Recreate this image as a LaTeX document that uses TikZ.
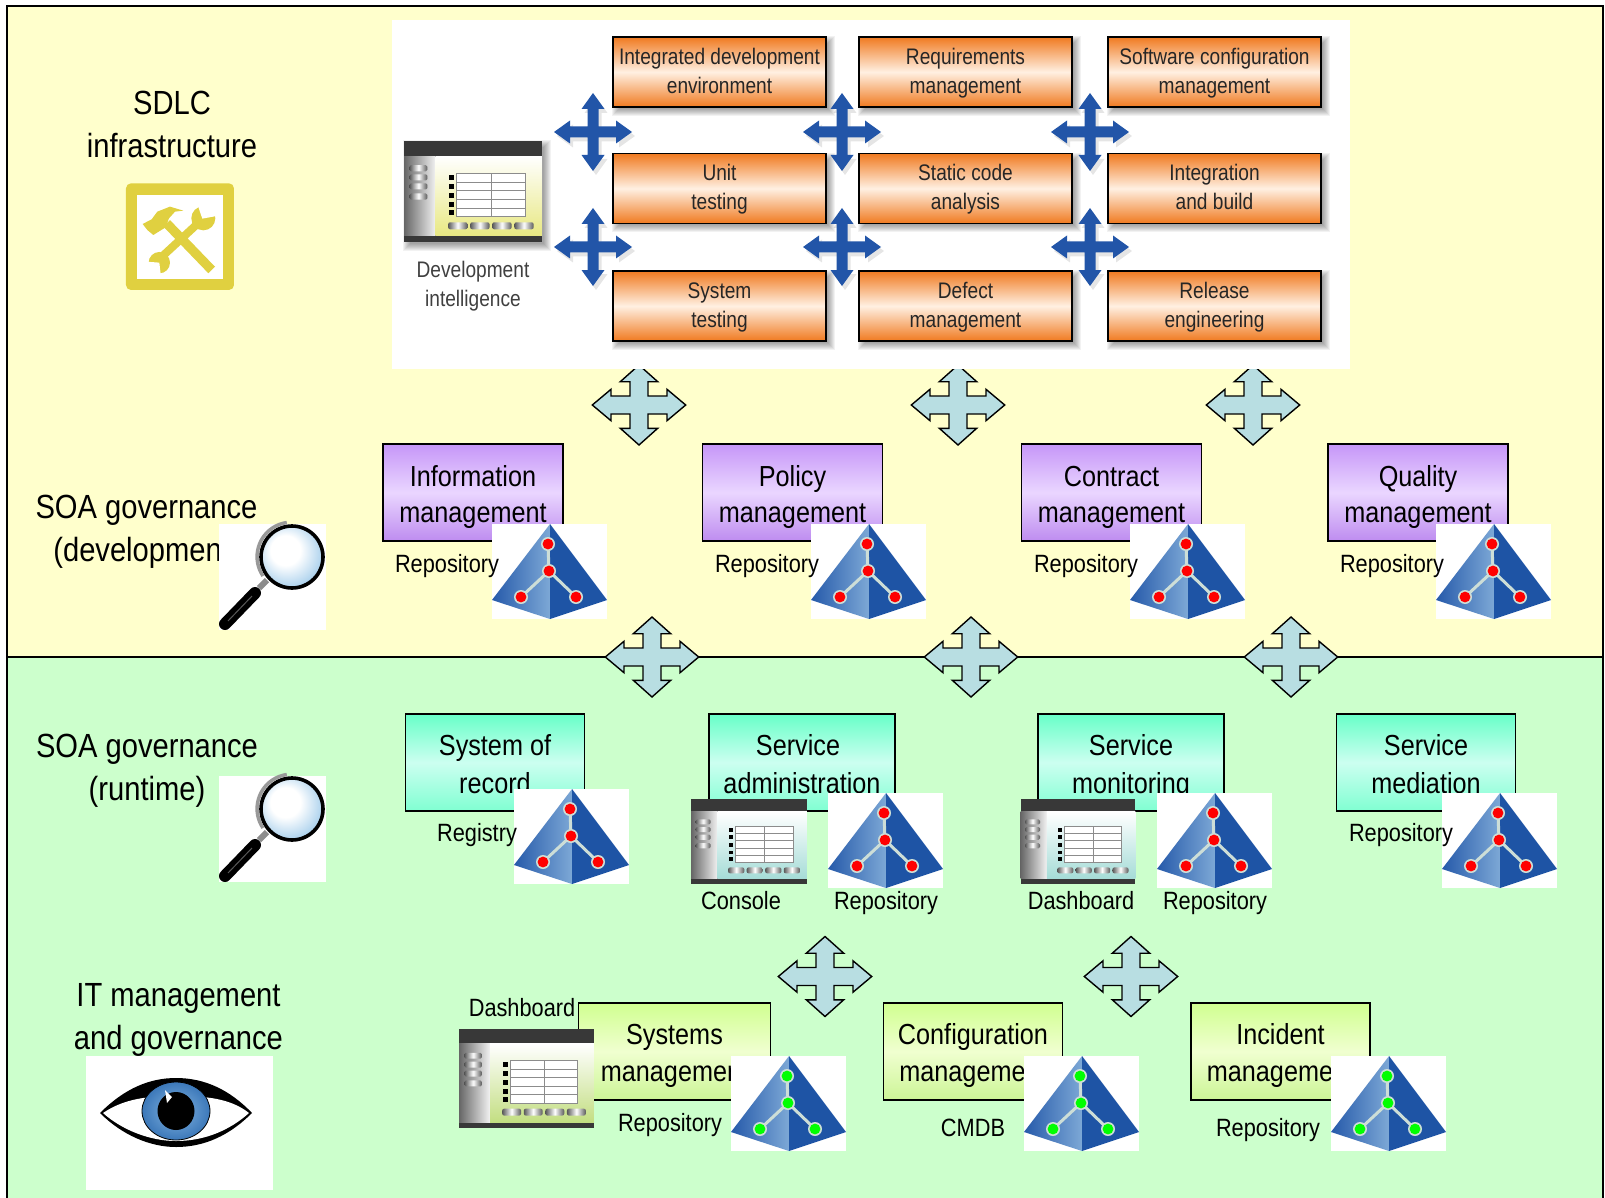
\documentclass[tikz,border=0pt]{standalone}
\usepackage{fontspec}
\setmainfont[FakeStretch=0.87]{Liberation Sans}
\newfontfamily\panelfont[FakeStretch=0.85]{Liberation Sans}
\usetikzlibrary{shapes.geometric}
\definecolor{bgyellow}{HTML}{FFFFCC}
\definecolor{bggreen}{HTML}{CCFFCC}
\definecolor{crossfill}{HTML}{B8DEE2}
\definecolor{crossblue}{HTML}{2255A8}
\definecolor{toolyellow}{HTML}{E0D040}
\definecolor{orangetop}{HTML}{F07A20}
\definecolor{orangemid}{HTML}{FFF0E2}
\definecolor{purpletop}{HTML}{C696F8}
\definecolor{purplemid}{HTML}{EAD6FF}
\definecolor{purplebot}{HTML}{BE8CF0}
\definecolor{tealtop}{HTML}{68FFC8}
\definecolor{tealmid}{HTML}{CCFFF0}
\definecolor{tealbot}{HTML}{80FFD2}
\definecolor{limetop}{HTML}{D0FF90}
\definecolor{limemid}{HTML}{F0FFD0}
\definecolor{limebot}{HTML}{CCF596}
\definecolor{pyrdark}{HTML}{265AAA}
\definecolor{pyrlight}{HTML}{7DA8D6}
\definecolor{pyrright}{HTML}{1E54A5}
\definecolor{pyrhalo}{HTML}{CDDED7}
\definecolor{panelyellow}{HTML}{E8E882}
\definecolor{panelteal}{HTML}{A5DCD7}
\definecolor{panellime}{HTML}{C3DE82}
\definecolor{lensblue}{HTML}{8CC0E6}
\definecolor{irislight}{HTML}{82B4E1}
\definecolor{irisdark}{HTML}{3C78B9}
\pgfdeclareradialshading{lensglass}{\pgfpoint{-7bp}{7bp}}{color(0bp)=(white);color(12bp)=(white);color(34bp)=(lensblue);color(50bp)=(lensblue)}
\tikzset{
  lbl/.style={font=\fontsize{33.5}{43}\selectfont,align=center,inner sep=0pt},
  repo/.style={font=\fontsize{25}{28}\selectfont,inner sep=0pt,anchor=base},
  panelbox/.style={draw=black,line width=1.3pt,minimum width=213pt,minimum height=70pt,inner sep=0pt,align=center,
    top color=orangetop,bottom color=orangetop,middle color=orangemid,text=black!85,font=\panelfont\fontsize{22.5}{29}\selectfont},
  purplebox/.style={draw=black,line width=1.3pt,minimum width=180pt,minimum height=97pt,inner sep=0pt,align=center,
    top color=purpletop,bottom color=purplebot,middle color=purplemid,
    font=\fontsize{29}{36}\selectfont},
  tealbox/.style={draw=black,line width=1.3pt,minimum height=97pt,inner sep=0pt,align=center,
    top color=tealtop,bottom color=tealbot,middle color=tealmid,
    font=\fontsize{29}{38}\selectfont},
  limebox/.style={draw=black,line width=1.3pt,minimum height=97pt,inner sep=0pt,align=center,
    top color=limetop,bottom color=limebot,middle color=limemid,
    font=\fontsize{29}{37}\selectfont},
  pill/.style={left color=black!65,right color=black!65,middle color=white}
}
\newcommand{\tlb}[2]{\rule{0pt}{33pt}#1\\#2\rule[-10pt]{0pt}{10pt}}
\newcommand{\tls}[2]{\rule{0pt}{22pt}#1\\#2\rule[-8pt]{0pt}{8pt}}
\newcommand{\tll}[2]{\rule{0pt}{30pt}#1\\#2\rule[-10pt]{0pt}{10pt}}
\newcommand{\lightcross}[2]{%
  \draw[fill=crossfill,draw=black,line width=1.4pt,line join=miter,shift={(#1,#2)}]
   (0,-40)--(18.7,-23.3)--(9,-23.3)--(9,-9)--(28,-9)--(28,-15.7)--(46.7,0)--(28,15.7)--(28,9)--(9,9)--(9,23.3)--(18.7,23.3)--(0,40)--(-18.7,23.3)--(-9,23.3)--(-9,9)--(-28,9)--(-28,15.7)--(-46.7,0)--(-28,-15.7)--(-28,-9)--(-9,-9)--(-9,-23.3)--(-18.7,-23.3)--cycle;}
\newcommand{\bluecrosspath}{(0,-39)--(11.5,-23)--(5.5,-23)--(5.5,-5.5)--(23,-5.5)--(23,-11.5)--(39,0)--(23,11.5)--(23,5.5)--(5.5,5.5)--(5.5,23)--(11.5,23)--(0,39)--(-11.5,23)--(-5.5,23)--(-5.5,5.5)--(-23,5.5)--(-23,11.5)--(-39,0)--(-23,-11.5)--(-23,-5.5)--(-5.5,-5.5)--(-5.5,-23)--(-11.5,-23)--cycle}
\newcommand{\bluecross}[2]{%
  \fill[black,opacity=.10,shift={(#1+3,#2+4)}] \bluecrosspath;
  \fill[crossblue,shift={(#1,#2)}] \bluecrosspath;}
\newcommand{\softshadow}[4]{%
  \foreach \k in {0,...,7}{\fill[black,opacity=.05] ({#1+6-\k},{#2+6-\k}) rectangle ({#3+2+\k},{#4+2+\k});}}
\newcommand{\pyramidpic}[3]{%
  \begin{scope}[shift={(#1,#2)}]
    \fill[white] (0,0) rectangle (115,95);
    \shade[left color=pyrdark,right color=pyrlight] (58,0)--(0,76)--(58,95)--cycle;
    \fill[pyrright] (58,0)--(115,76)--(58,95)--cycle;
    \draw[pyrhalo,line width=3pt] (56,20)--(57,47)--(29,73) (57,47)--(84,73);
    \foreach \p in {(56,20),(57,47),(29,73),(84,73)}{%
      \fill[pyrhalo] \p circle (7);
      \fill[#3] \p circle (5.4);}
  \end{scope}}
\newcommand{\consolepic}[5]{%
  \begin{scope}[shift={(#1,#2)},x=#3*0.01pt,y=-#4*0.01pt]
    \fill[black!78] (0,0) rectangle (100,100);
    \shade[left color=black!60,right color=black!5] (0,15) rectangle (23,94);
    \shade[top color=white,bottom color=#5] (23,15) rectangle (100,94);
    \fill[white] (38,32) rectangle (88,75);
    \draw[black!45,line width=.7pt] (38,32) rectangle (88,75)
      (38,40.6)--(88,40.6) (38,49.2)--(88,49.2) (38,57.8)--(88,57.8) (38,66.4)--(88,66.4) (63,32)--(63,75);
    \foreach \q in {36,45,54,63,71}{\fill[black] (32.5,\q-2.3) rectangle (36,\q+2.3);}
    \foreach \q in {27,36,45,55}{\shade[pill,rounded corners=1.5pt] (4,\q-3) rectangle (17,\q+3);}
    \foreach \q in {32,48,64,80}{\shade[pill,rounded corners=2pt] (\q,80.5) rectangle (\q+14,87.5);}
  \end{scope}}
\newcommand{\magnifier}[2]{%
  \begin{scope}[shift={(#1,#2)}]
    \fill[white] (0,0) rectangle (107,106);
    \draw[black!45,line width=6pt] (40,64)--(48,56);
    \draw[black,line width=12pt,line cap=round] (6,100)--(36,69);
    \draw[black!65,line width=1pt] (9,97)--(33,72);
    \shade[shading=lensglass] (73,33) circle (31);
    \draw[black,line width=3.6pt] (73,33) circle (31);
    \draw[black!40,line width=3.5pt] (44,52) arc (146:262:34.5);
  \end{scope}}
\begin{document}
\begin{tikzpicture}[x=1pt,y=-1pt]
\useasboundingbox (0,0) rectangle (1605,1198);
\fill[white] (0,0) rectangle (1605,1198);
% backgrounds
\fill[bgyellow] (7,6) rectangle (1603,657);
\fill[bggreen] (7,657) rectangle (1603,1198);
\draw[black,line width=1.6pt] (7,1198)--(7,6)--(1603,6)--(1603,1198);
\draw[black,line width=1.6pt] (7,657)--(1603,657);
% row 1 light crosses (cut by the panel)
\lightcross{639}{405}\lightcross{958}{405}\lightcross{1253}{405}
% white panel
\fill[white] (392,20) rectangle (1350,369);
% shadows
\foreach \cx/\w in {613/826,859/1072,1108/1321}{%
  \foreach \ry/\rb in {37/107,154/223,271/341}{\softshadow{\cx}{\ry}{\w}{\rb}}}
\softshadow{404}{141}{542}{242}
% orange boxes
\node[panelbox] (ide) at (719.5,72) {\tls{Integrated development}{environment}};
\node[panelbox] (req) at (965.5,72) {\tls{Requirements}{management}};
\node[panelbox] (scm) at (1214.5,72) {\tls{Software configuration}{management}};
\node[panelbox] (unit) at (719.5,188.5) {\tls{Unit}{testing}};
\node[panelbox] (sca) at (965.5,188.5) {\tls{Static code}{analysis}};
\node[panelbox] (intb) at (1214.5,188.5) {\tls{Integration}{and build}};
\node[panelbox] (syst) at (719.5,306) {\tls{System}{testing}};
\node[panelbox] (defm) at (965.5,306) {\tls{Defect}{management}};
\node[panelbox] (rele) at (1214.5,306) {\tls{Release}{engineering}};
% blue crosses
\foreach \cx in {593,842,1090}{\bluecross{\cx}{132}\bluecross{\cx}{247}}
% development console
\consolepic{404}{141}{138}{101}{panelyellow}
\node[font=\panelfont\fontsize{22.5}{29}\selectfont,text=black!75,align=center,inner sep=0pt] (devint) at (473,285) {\tls{Development}{intelligence}};
% left labels
\node[lbl] (sdlc) at (172,126.5) {\tll{SDLC}{infrastructure}};
\node[lbl] (soadev) at (146.5,529.5) {\tll{SOA governance}{(development)}};
\node[lbl] (soarun) at (147,769) {\tll{SOA governance}{(runtime)}};
\node[lbl] (itm) at (178.5,1018) {\tll{IT management}{and governance}};
% tools icon
\begin{scope}[shift={(70,80)},x=0.3333pt,y=-0.3333pt]
  \fill[toolyellow,rounded corners=5pt] (168,310) rectangle (492,630);
  \fill[white] (202,346) rectangle (458,598);
  \draw[toolyellow,line width=8pt] (265,540)--(395,420);
  \fill[toolyellow] (400,415) circle (36);
  \fill[toolyellow] (268,548) circle (32);
  \fill[white] (397,416)--(382,372)--(408,368)--(448,380)--(440,408)--cycle;
  \fill[white] (268,548)--(228,545)--(228,575)--(250,590)--(272,582)--cycle;
  \draw[toolyellow,line width=9.3pt] (290,430)--(425,570);
  \fill[toolyellow] (218,432)--(245,418)--(262,395)--(300,380)--(340,392)--(315,395)--(297,415)--(287,442)--(250,465)--(232,450)--cycle;
\end{scope}
% magnifiers
\magnifier{219}{524}
\magnifier{219}{776}
% eye
\fill[white] (85.5,1056) rectangle (273,1190);
\fill[black] (100,1113) .. controls (125,1088) and (150,1078) .. (176,1078) .. controls (205,1078) and (230,1090) .. (252,1113) .. controls (230,1135) and (205,1147) .. (176,1147) .. controls (150,1147) and (122,1135) .. (100,1113) -- cycle;
\fill[white] (103,1113) .. controls (125,1098) and (150,1096) .. (176,1096) .. controls (205,1096) and (230,1098) .. (249,1113) .. controls (230,1130) and (205,1141) .. (176,1141) .. controls (150,1141) and (122,1130) .. (103,1113) -- cycle;
\shade[inner color=irislight,outer color=irisdark] (176,1111) ellipse (34 and 29);
\draw[black,line width=.8pt] (176,1111) ellipse (34 and 29);
\fill[black] (176,1111) ellipse (18.5 and 19);
\fill[white] (165,1090)--(172,1097)--(167,1103)--cycle;
% purple boxes
\node[purplebox] (infom) at (473,492.5) {\tlb{Information}{management}};
\node[purplebox] (polm) at (792.5,492.5) {\tlb{Policy}{management}};
\node[purplebox] (conm) at (1111.5,492.5) {\tlb{Contract}{management}};
\node[purplebox] (qualm) at (1418,492.5) {\tlb{Quality}{management}};
% teal boxes
\node[tealbox,minimum width=179pt] (sor) at (495,762.5) {\tlb{System of}{record}};
\node[tealbox,minimum width=186pt] (sadm) at (802,762.5) {\tlb{Service\hspace*{8pt}}{administration}};
\node[tealbox,minimum width=186pt] (smon) at (1131,762.5) {\tlb{Service}{monitoring}};
\node[tealbox,minimum width=179pt] (smed) at (1426,762.5) {\tlb{Service}{mediation}};
% lime boxes
\node[limebox,minimum width=192pt] (sysm) at (674.5,1051.5) {\tlb{Systems}{management}};
\node[limebox,minimum width=179pt] (cfgm) at (973,1051.5) {\tlb{Configuration}{management}};
\node[limebox,minimum width=179pt] (incm) at (1280.5,1051.5) {\tlb{Incident}{management}};
% consoles
\consolepic{691}{799}{116}{85}{panelteal}
\consolepic{1020.5}{799}{115}{85}{panelteal}
\consolepic{459}{1029}{135}{99}{panellime}
% pyramids
\pyramidpic{492}{524}{red}\pyramidpic{811}{524}{red}\pyramidpic{1130}{524}{red}\pyramidpic{1436}{524}{red}
\pyramidpic{514}{789}{red}\pyramidpic{828}{793}{red}\pyramidpic{1157}{793}{red}\pyramidpic{1442}{793}{red}
\pyramidpic{731}{1056}{green}\pyramidpic{1024}{1056}{green}\pyramidpic{1331}{1056}{green}
% repository labels
\node[repo] (r1) at (447,572) {Repository};
\node[repo] (r2) at (767,572) {Repository};
\node[repo] (r3) at (1086,572) {Repository};
\node[repo] (r4) at (1392,572) {Repository};
\node[repo] (reg) at (477,841) {Registry};
\node[repo] (r5) at (1401,841) {Repository};
\node[repo] (con) at (741,909) {Console};
\node[repo] (r6) at (886,909) {Repository};
\node[repo] (dash1) at (1081,909) {Dashboard};
\node[repo] (r7) at (1215,909) {Repository};
\node[repo] (dash2) at (522,1016) {Dashboard};
\node[repo] (r8) at (670,1131) {Repository};
\node[repo] (cmdb) at (973,1136) {CMDB};
\node[repo] (r9) at (1268,1136) {Repository};
% crosses on the divider and lower rows
\lightcross{652}{657}\lightcross{971}{657}\lightcross{1291}{657}
\lightcross{825}{976.5}\lightcross{1131}{976.5}
\end{tikzpicture}
\end{document}
